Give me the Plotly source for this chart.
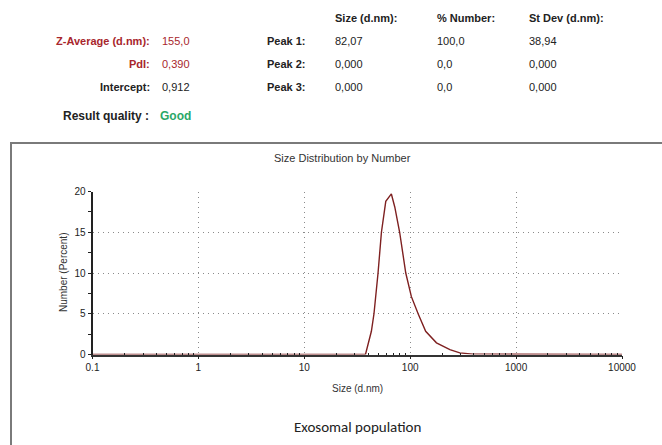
import plotly.graph_objects as go

# ---- data ----
size_nm = [0.1, 37.8, 43.0, 45.5, 49.7, 53.5, 58.8, 63.0, 66.4, 71.5, 79.5, 90.8,
           102.6, 118.8, 140, 177, 237, 294, 390, 10000]
number_pct = [0, 0, 2.85, 5.0, 10.0, 15.0, 18.8, 19.4, 19.7, 18.1, 15.0, 10.0,
              7.1, 5.0, 2.85, 1.43, 0.6, 0.2, 0.05, 0]

x_tickvals = [0.1, 1, 10, 100, 1000, 10000]
x_ticktext = ["0.1", "1", "10", "100", "1000", "10000"]
y_tickvals = [0, 5, 10, 15, 20]
y_minor = [2.5, 7.5, 12.5, 17.5]
x_minor = [m * d for d in [0.1, 1, 10, 100, 1000] for m in range(2, 10)]

header_cols = ["Size (d.nm):", "% Number:", "St Dev (d.nm):"]
peak_labels = ["Peak 1:", "Peak 2:", "Peak 3:"]
peak_size = ["82,07", "0,000", "0,000"]
peak_number = ["100,0", "0,0", "0,0"]
peak_stdev = ["38,94", "0,000", "0,000"]
left_labels = ["Z-Average (d.nm):", "PdI:", "Intercept:"]
left_values = ["155,0", "0,390", "0,912"]

W, H = 662, 445
FONT = "Liberation Sans Narrow, Arial Narrow, Liberation Sans, Arial, sans-serif"
CFONT = "Liberation Sans, Arial, sans-serif"
DARKRED = "#a8262c"

fig = go.Figure()
fig.add_trace(go.Scatter(x=size_nm, y=number_pct, mode="lines",
                         line=dict(color="#7e2020", width=1.4),
                         showlegend=False, hoverinfo="skip"))

def px(x):
    return x / W

def py(y):
    return 1 - y / H

fig.update_layout(
    width=W, height=H, margin=dict(l=0, r=0, t=0, b=0, autoexpand=False),
    paper_bgcolor="white", plot_bgcolor="white",
    xaxis=dict(type="log", range=[-1, 4], domain=[px(92.5), px(622)],
               automargin=False,
               tickvals=x_tickvals, ticktext=x_ticktext,
               ticks="outside", ticklen=3, tickcolor="#222",
               showline=True, linecolor="#333", linewidth=1.5,
               showgrid=True, gridcolor="#8a8a8a", griddash="1px,4px", gridwidth=1,
               zeroline=False,
               minor=dict(tickvals=x_minor, ticks="inside", ticklen=2,
                          tickcolor="#222", showgrid=False),
               tickfont=dict(family=CFONT, size=10, color="#222"),
               anchor="y"),
    yaxis=dict(range=[0, 20], domain=[py(354.5), py(191.5)],
               automargin=False,
               tickvals=y_tickvals, ticks="outside", ticklen=3, tickcolor="#222",
               showline=True, linecolor="#222", linewidth=2,
               showgrid=True, gridcolor="#8a8a8a", griddash="1px,4px", gridwidth=1,
               zeroline=False,
               minor=dict(tickvals=y_minor, ticks="outside", ticklen=3,
                          tickcolor="#222", showgrid=False),
               tickfont=dict(family=CFONT, size=10, color="#222"),
               anchor="x"),
)

# chart frame
fig.add_shape(type="rect", xref="paper", yref="paper",
              x0=px(11), x1=1.02, y0=-0.02, y1=py(143),
              line=dict(color="#7a7a7a", width=2), fillcolor="rgba(0,0,0,0)", layer="below")

ann = []
def text(x, y, s, size=11, color="#222", bold=False, anchor="left", family=FONT, angle=0):
    ann.append(dict(x=px(x), y=py(y), xref="paper", yref="paper", showarrow=False,
                    text=f"<b>{s}</b>" if bold else s, xanchor=anchor, yanchor="middle",
                    textangle=angle,
                    font=dict(family=family, size=size, color=color)))

# header
col_x = [333, 435, 527]
for cx, h in zip(col_x, header_cols):
    text(cx, 18, h, bold=True)
row_y = [41, 64, 87]
for i, ry in enumerate(row_y):
    lab_color = DARKRED if i < 2 else "#222"
    text(152, ry, left_labels[i], color=lab_color, bold=True, anchor="right")
    text(160, ry, left_values[i], color=lab_color)
    text(265, ry, peak_labels[i], bold=True)
    text(333, ry, peak_size[i])
    text(435, ry, peak_number[i])
    text(527, ry, peak_stdev[i])
text(151, 116, "Result quality :", size=12, bold=True, anchor="right")
text(158, 116, "Good", size=12, color="#2aa868", bold=True)

# chart title, axis titles & caption
text(342, 158, "Size Distribution by Number", size=11, color="#333", anchor="center", family=CFONT)
text(357, 388, "Size (d.nm)", size=10, color="#333", anchor="center", family=CFONT)
ann.append(dict(x=px(63), y=py(273), xref="paper", yref="paper", showarrow=False,
                text="Number (Percent)", textangle=-90, xanchor="center", yanchor="middle",
                font=dict(family=CFONT, size=10, color="#333")))
text(357, 427, "Exosomal population", size=15, color="#222", anchor="center",
     family="Carlito, Open Sans, Noto Sans, sans-serif")

fig.update_layout(annotations=ann)
fig.write_html("out.html")
